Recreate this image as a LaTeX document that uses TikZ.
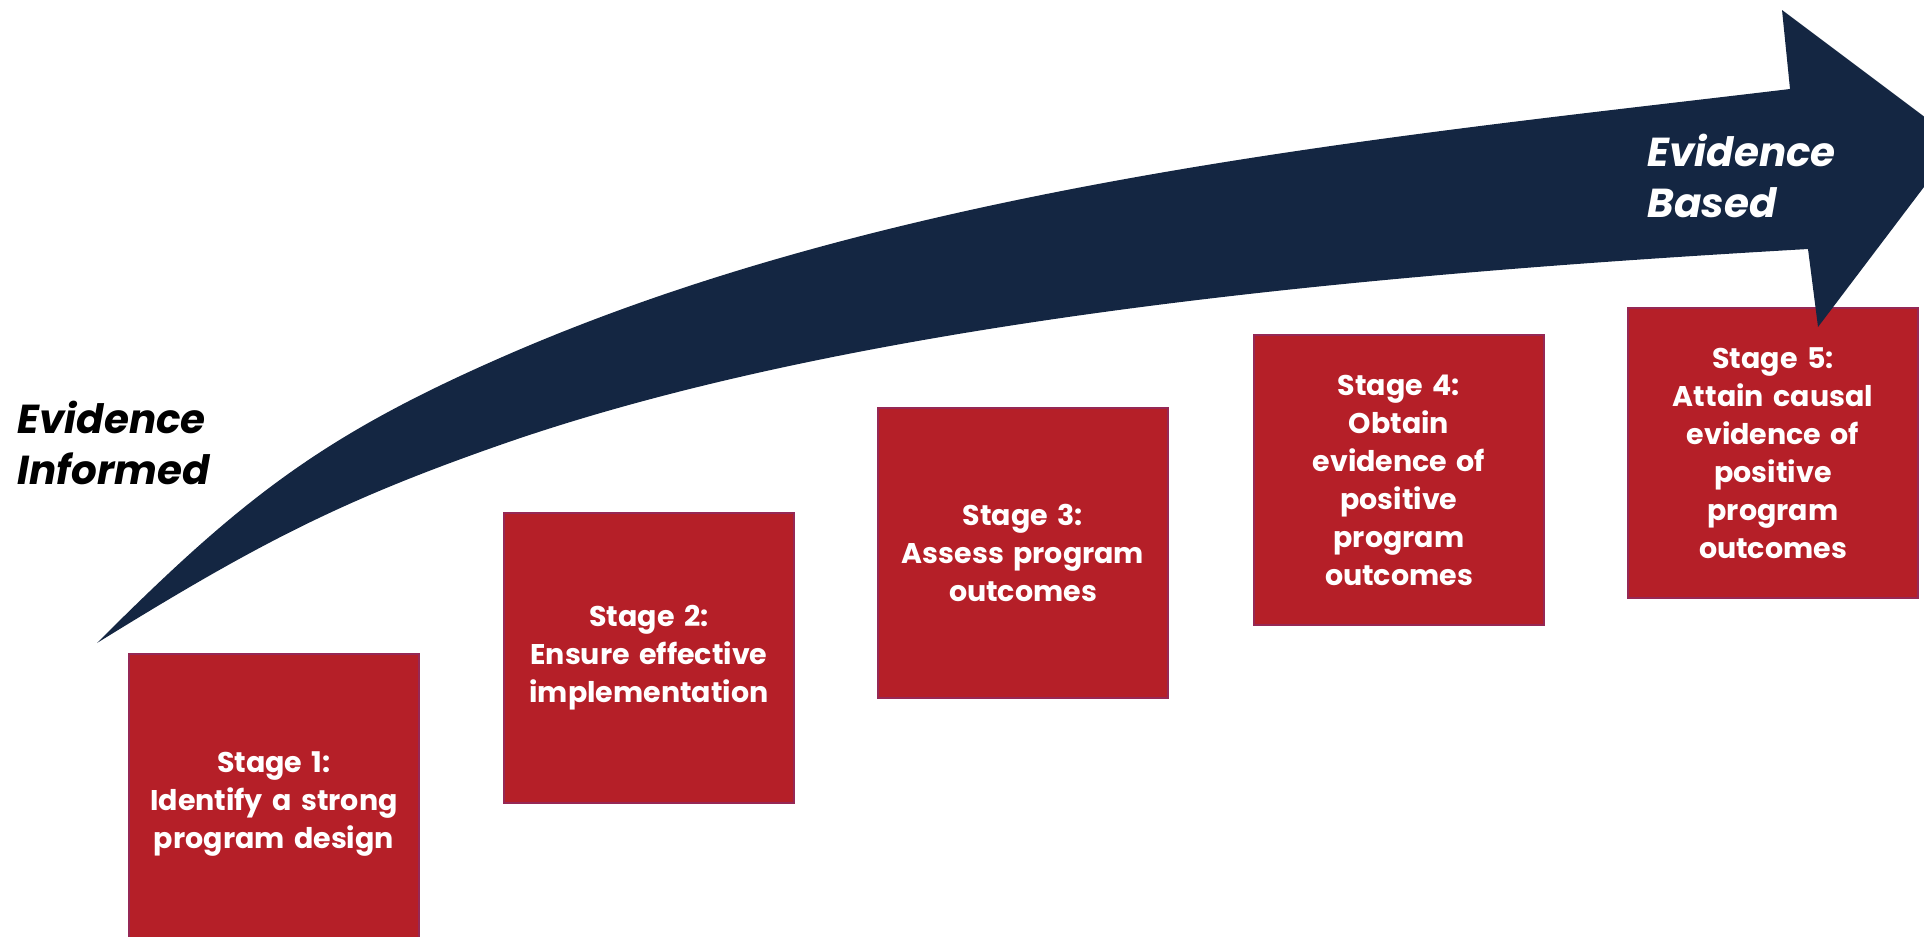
\documentclass[tikz,border=0pt]{standalone}
\usepackage{fontspec}
\setmainfont{Poppins}
\definecolor{navy}{RGB}{20,38,66}
\definecolor{stagered}{RGB}{181,31,40}
\definecolor{stageedge}{RGB}{150,40,85}
\begin{document}
\begin{tikzpicture}[x=0.01cm,y=-0.01cm,
  stagebox/.style={draw=stageedge, line width=0.5pt, fill=stagered, anchor=north west,
    minimum width=2.9cm, minimum height=2.9cm, inner sep=0pt, text width=2.8cm, align=center,
    text=white, font=\bfseries\fontsize{8.1}{10.8}\selectfont},
  sidelabel/.style={anchor=north west, align=left, inner sep=0pt,
    font=\bfseries\itshape\fontsize{11.5}{14.6}\selectfont}]
\useasboundingbox (0,0) rectangle (1924,936);
\begin{scope}
\clip (0,0) rectangle (1924,936);
\node[stagebox, minimum height=3.0cm] (s1) at (128,653) {Stage 1:\\Identify a strong\\program design};
\node[stagebox] (s2) at (503,512) {Stage 2:\\Ensure effective\\implementation};
\node[stagebox] (s3) at (877,407) {Stage 3:\\Assess program\\outcomes};
\node[stagebox] (s4) at (1253,334) {Stage 4:\\Obtain\\evidence of\\positive\\program\\outcomes};
\node[stagebox] (s5) at (1627,307) {Stage 5:\\Attain causal\\evidence of\\positive\\program\\outcomes};
\fill[navy] (97,643) .. controls (240,500) and (320,437) .. (500,358)
  .. controls (900,182) and (1390,137) .. (1790,89)
  -- (1782,10) -- (1958,142) -- (1818,327) -- (1808,249)
  .. controls (1428,271) and (880,312) .. (500,445)
  .. controls (340,501) and (257,544) .. (97,643) -- cycle;
\end{scope}
\node[sidelabel, text=black] (informed) at (17,400) {Evidence\\Informed};
\node[sidelabel, text=white] (based) at (1647,133) {Evidence\\Based};
\end{tikzpicture}
\end{document}
